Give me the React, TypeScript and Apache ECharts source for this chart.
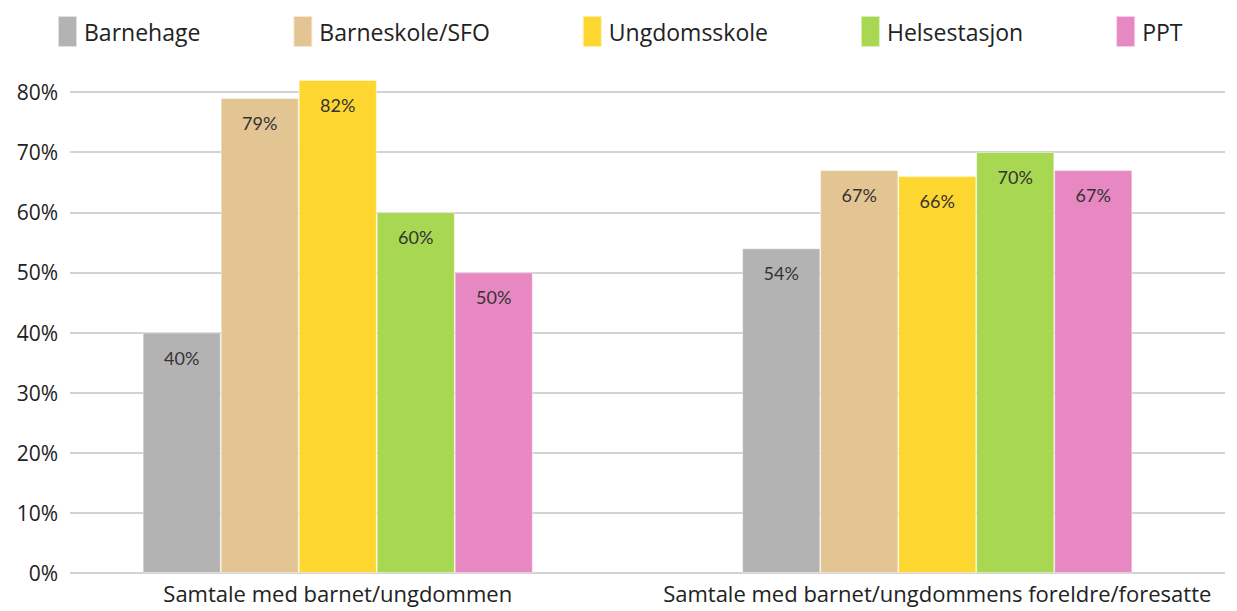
import React, { useEffect, useRef } from "react";
import * as echarts from "echarts";

const categories = [
  "Samtale med barnet/ungdommen",
  "Samtale med barnet/ungdommens foreldre/foresatte",
];
const seriesNames = ["Barnehage", "Barneskole/SFO", "Ungdomsskole", "Helsestasjon", "PPT"];
const barnehage = [40, 54];
const barneskole = [79, 67];
const ungdomsskole = [82, 66];
const helsestasjon = [60, 70];
const ppt = [50, 67];
const colors = ["#B3B3B3", "#E3C594", "#FDD72F", "#A8D751", "#E788C3"];
const yMin = 0;
const yMax = 82;
const yInterval = 10;

export default function App() {
  const ref = useRef<HTMLDivElement>(null);
  useEffect(() => {
    if (!ref.current) return;
    const chart = echarts.init(ref.current, null, { renderer: "svg" });
    const values = [barnehage, barneskole, ungdomsskole, helsestasjon, ppt];
    chart.setOption({
      animation: false,
      color: colors,
      legend: {
        data: seriesNames,
        left: 52,
        top: 10,
        itemWidth: 19,
        itemHeight: 31,
        itemGap: 92,
        icon: "rect",
        textStyle: {
          fontFamily: "Open Sans",
          fontSize: 23,
          color: "#222",
          padding: [0, 0, 0, 2],
        },
      },
      grid: [
        { left: 70, right: 12, top: 80, bottom: 38 },
        { left: 38, width: 1203, top: 80, bottom: 38 },
      ],
      xAxis: [
        { type: "category", gridIndex: 0, data: categories, show: false },
        {
          type: "category",
          gridIndex: 1,
          data: categories,
          axisLine: { show: false },
          axisTick: { show: false },
          axisLabel: {
            interval: 0,
            hideOverlap: false,
            fontFamily: "Open Sans",
            fontSize: 22,
            lineHeight: 22,
            color: "#222",
            margin: 9,
          },
        },
      ],
      yAxis: [
        {
          type: "value",
          gridIndex: 0,
          min: yMin,
          max: yMax,
          interval: yInterval,
          axisLine: { show: false },
          axisTick: { show: false },
          axisLabel: {
            formatter: "{value}%",
            fontFamily: "Open Sans",
            fontSize: 21,
            color: "#222",
            margin: 12,
            showMaxLabel: false,
          },
          splitLine: {
            show: true,
            showMaxLine: false,
            lineStyle: { color: "#C4C4C4", width: 1.5 },
          },
        },
        {
          type: "value",
          gridIndex: 1,
          min: yMin,
          max: yMax,
          interval: yInterval,
          show: false,
          splitLine: { show: false },
        },
      ],
      series: seriesNames.map((name, i) => ({
        name,
        type: "bar",
        xAxisIndex: 1,
        yAxisIndex: 1,
        data: values[i],
        barWidth: 78,
        barGap: "0%",
        itemStyle: { color: colors[i], borderColor: "rgba(255,255,255,0.6)", borderWidth: 0.8 },
        label: {
          show: true,
          position: "insideTop",
          distance: 16,
          formatter: "{c}%",
          fontFamily: "Lato",
          fontSize: 18,
          color: "#333",
        },
      })),
    });
    return () => chart.dispose();
  }, []);
  return <div ref={ref} style={{ width: 1237, height: 611, position: "absolute", left: 0, top: 0 }} />;
}
